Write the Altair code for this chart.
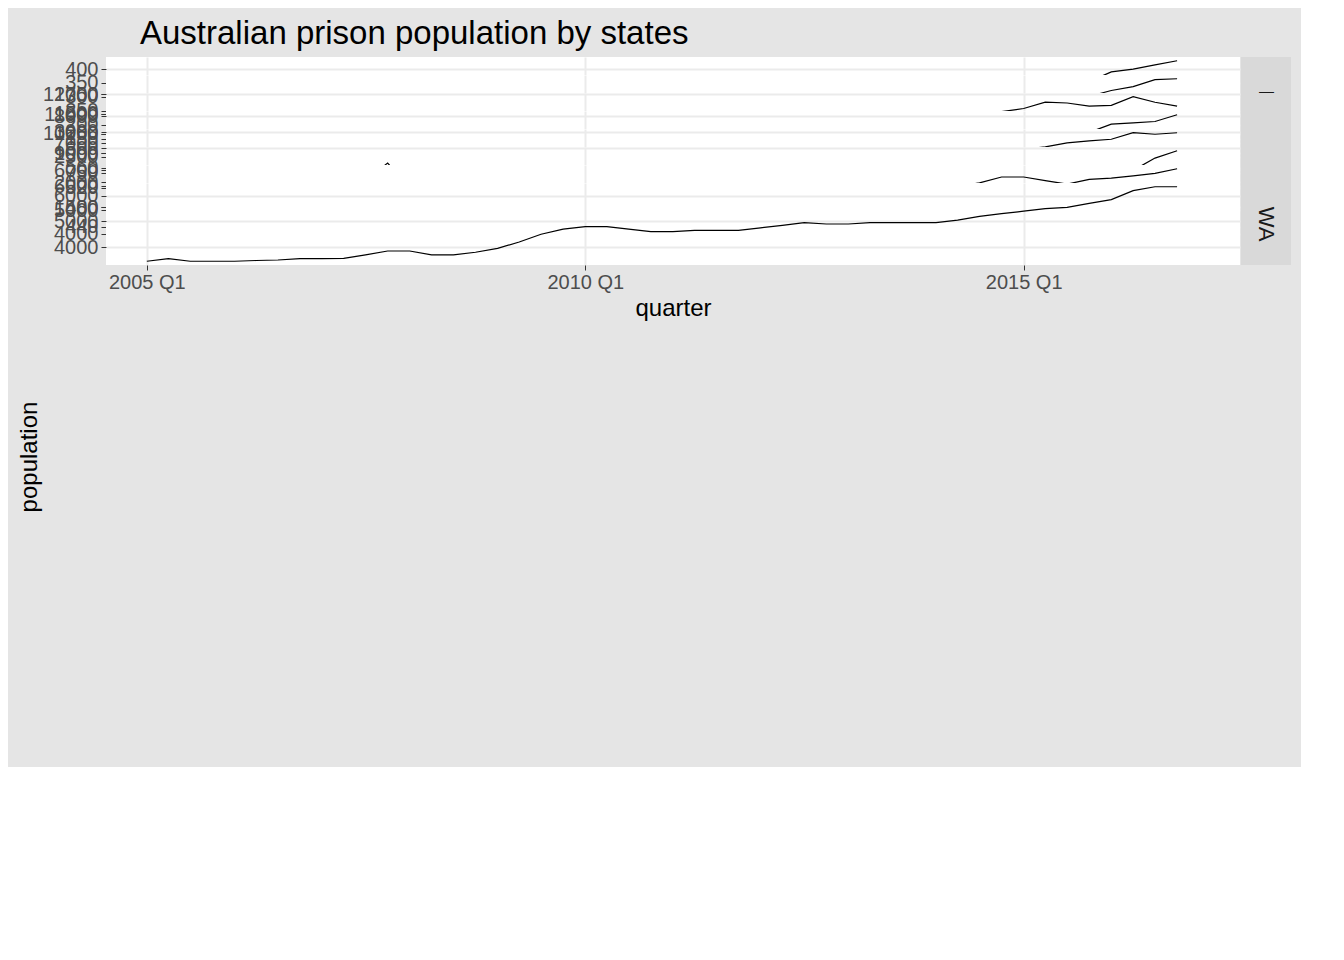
import pandas as pd
import altair as alt

STATES = ["ACT", "NSW", "NT", "QLD", "SA", "TAS", "VIC", "WA"]
QUARTERS = pd.date_range("2005-01-01", periods=48, freq="QS").strftime("%Y-%m-%d").tolist()

ACT = [178, 178, 180, 195, 187, 186, 165, 172, 168, 162, 162, 170, 177, 175, 162, 167,
       162, 165, 162, 172, 190, 212, 212, 212, 225, 232, 233, 232, 255, 262, 262, 262,
       240, 255, 300, 322, 322, 322, 322, 320, 330, 325, 340, 355, 390, 400, 415, 430]
NSW = [9000, 9050, 9000, 9000, 9000, 9100, 9250, 9300, 9450, 9500, 9650, 9600, 9600, 9600, 9750, 9950,
       9950, 10100, 10400, 10400, 10300, 10400, 10200, 10050, 10050, 10100, 9950, 9800, 9800, 9800, 9700, 9750,
       9850, 9950, 10050, 10100, 10300, 10550, 10900, 10600, 10600, 11100, 11600, 11900, 12200, 12400, 12750, 12800]
NT = [800, 810, 800, 770, 780, 800, 790, 780, 800, 830, 880, 850, 840, 900, 920, 950,
      970, 1100, 1090, 1050, 1080, 1100, 1100, 1100, 1130, 1170, 1250, 1260, 1290, 1370, 1400, 1400,
      1430, 1520, 1520, 1430, 1520, 1530, 1520, 1530, 1570, 1650, 1640, 1600, 1610, 1720, 1650, 1600]
QLD = [5300, 5350, 5350, 5350, 5450, 5500, 5550, 5580, 5600, 5600, 5600, 5500, 5480, 5480, 5520, 5560,
       5560, 5550, 5700, 5600, 5550, 5600, 5700, 5600, 5550, 5480, 5550, 5600, 5650, 5620, 5620, 5620,
       5700, 5950, 6200, 6500, 6800, 7000, 7050, 7150, 7150, 7300, 7250, 7400, 7700, 7750, 7800, 8050]
SA = [1550, 1500, 1500, 1550, 1550, 1550, 1600, 1620, 1680, 1720, 1800, 1820, 1830, 1880, 1900, 1950,
      1950, 1950, 1980, 2000, 1950, 2000, 2000, 2000, 2000, 2020, 2050, 2050, 2100, 2100, 2080, 2150,
      2200, 2250, 2280, 2350, 2420, 2500, 2500, 2650, 2650, 2700, 2780, 2820, 2850, 2980, 2950, 2980]
TAS = [528, 542, 532, 522, 477, 505, 545, 555, 508, 530, 535, 570, 520, 537, 522, 532,
       512, 528, 518, 510, 453, 477, 490, 490, 455, 478, 528, 530, 510, 513, 493, 493,
       460, 460, 472, 480, 470, 467, 443, 460, 467, 515, 515, 528, 535, 555, 580, 595]
VIC = [3600, 3600, 3650, 3650, 3600, 3700, 3900, 4000, 4000, 4050, 4150, 4150, 4200, 4100, 4150, 4300,
       4300, 4250, 4300, 4400, 4450, 4450, 4500, 4500, 4500, 4600, 4700, 4800, 4800, 4800, 4850, 4950,
       5100, 5200, 5400, 5700, 5850, 6000, 6150, 6400, 6400, 6250, 6100, 6300, 6350, 6450, 6550, 6750]
WA = [3450, 3550, 3450, 3450, 3450, 3480, 3500, 3550, 3550, 3560, 3700, 3850, 3850, 3700, 3700, 3800,
      3950, 4200, 4500, 4700, 4800, 4800, 4700, 4600, 4600, 4650, 4650, 4650, 4750, 4850, 4950, 4900,
      4900, 4950, 4950, 4950, 4950, 5050, 5200, 5300, 5400, 5500, 5550, 5700, 5850, 6200, 6350, 6350]

SERIES = {"ACT": ACT, "NSW": NSW, "NT": NT, "QLD": QLD, "SA": SA, "TAS": TAS, "VIC": VIC, "WA": WA}
Y_TICKS = {
    "ACT": [150, 200, 250, 300, 350, 400, 450],
    "NSW": [9000, 10000, 11000, 12000],
    "NT": [750, 1000, 1250, 1500, 1750],
    "QLD": [6000, 7000, 8000],
    "SA": [1500, 2000, 2500, 3000],
    "TAS": [440, 480, 520, 560, 600],
    "VIC": [4000, 5000, 6000],
    "WA": [4000, 5000, 6000],
}
X_TICKS = ["2005-01-01", "2010-01-01", "2015-01-01"]
X_DOMAIN = ["2004-07-15", "2017-06-20"]

PANEL_W = 1134
PANEL_H = 82
FONT = "Liberation Sans"

rows = []
for i, st in enumerate(STATES):
    vals = SERIES[st]
    df = pd.DataFrame({"quarter": QUARTERS, "population": vals})
    lo, hi = min(vals), max(vals)
    pad = (hi - lo) * 0.05
    last = i == len(STATES) - 1
    x_axis = alt.Axis(values=X_TICKS, labelExpr="timeFormat(datum.value, '%Y') + ' Q1'",
                      title="quarter" if last else None, labels=last, ticks=last,
                      gridColor="#ebebeb", gridWidth=2, domain=False,
                      tickColor="#333333", labelColor="#4d4d4d", labelFontSize=20,
                      titleFontSize=24, titleColor="black", titleFontWeight="normal",
                      labelPadding=2, titlePadding=4)
    panel = alt.Chart(df).mark_line(color="black", strokeWidth=1.2).encode(
        x=alt.X("quarter:T", axis=x_axis, scale=alt.Scale(domain=X_DOMAIN)),
        y=alt.Y("population:Q", title=None,
                scale=alt.Scale(domain=[lo - pad, hi + pad], zero=False, nice=False),
                axis=alt.Axis(values=Y_TICKS[st], format="d", labelOverlap=False,
                              gridColor="#ebebeb", gridWidth=2,
                              domain=False, tickColor="#333333", labelColor="#4d4d4d",
                              labelFontSize=20, tickSize=5, labelPadding=3,
                              labelBaseline="middle")),
    ).properties(width=PANEL_W, height=PANEL_H, view=alt.ViewBackground(fill="white", stroke=None))
    strip = alt.Chart(pd.DataFrame({"state": [st]})).mark_text(
        angle=90, fontSize=22, color="#1a1a1a", font=FONT
    ).encode(
        text="state:N", x=alt.value(25), y=alt.value(PANEL_H / 2)
    ).properties(width=50, height=PANEL_H, view=alt.ViewBackground(fill="#d9d9d9", stroke=None))
    rows.append(alt.hconcat(panel, strip, spacing=1, bounds="flush"))

ylab = alt.Chart(pd.DataFrame({"t": ["population"]})).mark_text(
    angle=270, fontSize=24, color="black", font=FONT
).encode(text="t:N", x=alt.value(8), y=alt.value(400)).properties(
    width=10, height=700, view=alt.ViewBackground(stroke=None))

chart = alt.hconcat(ylab, alt.vconcat(*rows, spacing=18, bounds="flush"), spacing=0).properties(
    title=alt.TitleParams("Australian prison population by states", anchor="start",
                          fontSize=33, fontWeight="normal", color="black", offset=6, dx=122),
    background="#e5e5e5",
    padding={"left": 10, "top": 10, "right": 10, "bottom": 10},
).configure(font=FONT).configure_view(stroke=None)

chart.save("out.html", embed_options={"renderer": "svg", "actions": False})
